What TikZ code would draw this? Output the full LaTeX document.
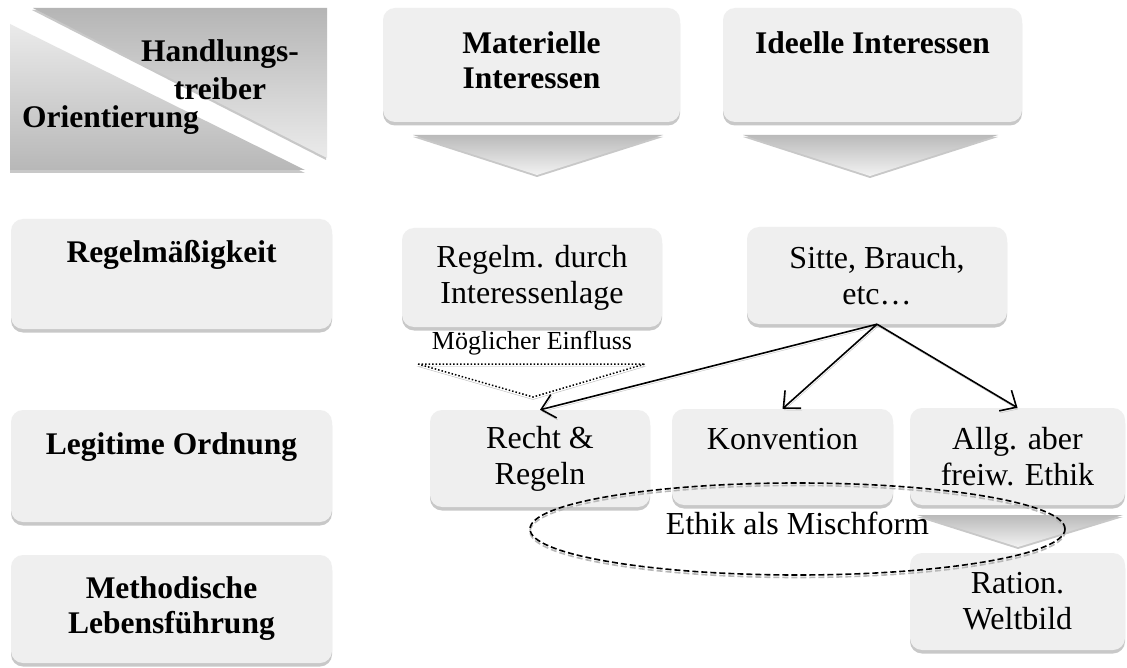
\documentclass[tikz,border=0pt]{standalone}
\usepackage{fontspec}
\setmainfont{Liberation Serif}
\usetikzlibrary{shapes.geometric,shadows,arrows.meta}
\definecolor{boxfill}{HTML}{EFEFEF}
\definecolor{edgegray}{HTML}{C8C8C8}
\newcommand\regfont{\fontsize{32}{36}\selectfont}
\newcommand\headfont{\fontsize{31.5}{35}\selectfont\bfseries}

\begin{document}
\begin{tikzpicture}[x=1pt,y=-1pt,
  box/.style={rectangle, rounded corners=12pt, fill=boxfill, align=center, inner sep=0pt, font=\regfont,
    drop shadow={shadow xshift=0pt, shadow yshift=-3.5pt, fill=edgegray, opacity=1}},
  headbox/.style={box, font=\headfont},
  chevron/.style={top color=black!27, bottom color=black!5,
    drop shadow={shadow xshift=0pt, shadow yshift=-2pt, fill=edgegray, opacity=1}},
  link/.style={-{Straight Barb[length=13pt,width=24pt]}, line width=1.6pt,
    preaction={draw=black!25, transform canvas={xshift=1pt,yshift=-2pt}}},
  gshadow/.style={preaction={draw=black!28, transform canvas={yshift=-2.5pt}}}]
\useasboundingbox (0,0) rectangle (1127,668);
\fill[white] (0,0) rectangle (1127,668);

\shade[top color=black!29, bottom color=black!8, drop shadow={shadow xshift=-1pt, shadow yshift=-2pt, fill=edgegray, opacity=1}] (33,8) -- (327,8) -- (327,158) -- cycle;
\shade[top color=black!8, bottom color=black!28, drop shadow={shadow xshift=0pt, shadow yshift=-3pt, fill=edgegray, opacity=1}] (10,24) -- (10,170) -- (305,170) -- cycle;
\node[font=\headfont, align=center, inner sep=0pt] (treiber) at (220,70) {Handlungs-\\[3pt]treiber};
\node[font=\headfont, anchor=base west, inner sep=0pt] (orient) at (22,128) {Orientierung};

\node[headbox, minimum width=297pt, minimum height=114pt] (mat) at (531.5,65) {Materielle\\Interessen\strut};
\node[headbox, minimum width=299pt, minimum height=114pt] (ideell) at (872.5,65) {Ideelle Interessen\\\strut};
\shade[chevron] (413,135) -- (663,135) -- (537,175) -- cycle;
\shade[chevron] (743,135) -- (998,135) -- (870,176) -- cycle;

\node[headbox, minimum width=321pt, minimum height=110pt] (regel) at (171.5,274) {Regelmäßigkeit\\\strut};
\node[headbox, minimum width=321pt, minimum height=112pt] (legit) at (171.5,466) {Legitime Ordnung\\\strut};
\node[headbox, minimum width=321pt, minimum height=108pt] (method) at (171.5,609) {Methodische\\Lebensführung};

\node[box, minimum width=260pt, minimum height=99pt] (lage) at (532,277.5) {Regelm. durch\\Interessenlage};
\node[box, minimum width=260pt, minimum height=97pt] (sitte) at (877,275.5) {Sitte, Brauch,\\etc…};
\node[font=\fontsize{26}{30}\selectfont, inner sep=0pt] (einfluss) at (532,343) {Möglicher Einfluss};
\draw[dotted, line width=1.5pt, gshadow] (418,364) -- (645,364) -- (533,397) -- cycle;

\node[box, minimum width=220pt, minimum height=97pt] (recht) at (540,458.5) {Recht \&\\Regeln};
\node[box, minimum width=221pt, minimum height=96pt] (konv) at (782.5,457) {Konvention\\\mbox{}};
\node[box, minimum width=215pt, minimum height=97pt] (allg) at (1017.5,456.5) {Allg. aber\\freiw. Ethik};
\shade[chevron] (917,515) -- (1123,515) -- (1018,547) -- cycle;
\node[box, minimum width=215pt, minimum height=97pt] (ration) at (1017.5,601.5) {Ration.\\Weltbild};

\draw[link] (sitte.south) -- (recht.north);
\draw[link] (sitte.south) -- (konv.north);
\draw[link] (sitte.south) -- (allg.north);

\node[ellipse, draw, dash pattern=on 6pt off 3pt, line width=1.6pt, gshadow, minimum width=535pt, minimum height=92pt,
  inner sep=0pt, font=\regfont, text depth=12pt] (misch) at (797.5,529) {Ethik als Mischform};
\end{tikzpicture}
\end{document}
